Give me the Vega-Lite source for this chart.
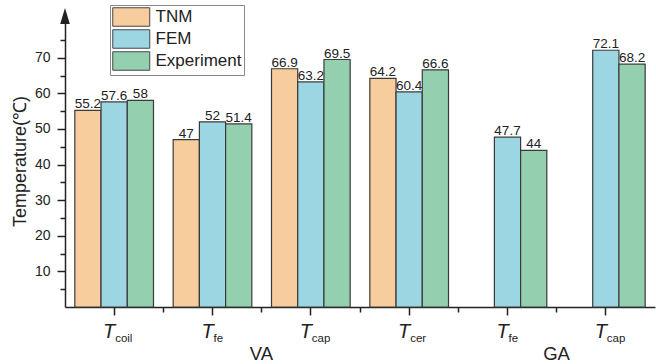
{
  "$schema": "https://vega.github.io/schema/vega-lite/v6.json",
  "width": 590,
  "height": 292,
  "autosize": "none",
  "padding": {"left": 65, "top": 15, "right": 1, "bottom": 57},
  "config": {
    "view": {"stroke": null},
    "font": "Liberation Sans",
    "axis": {"domainColor": "#222", "tickColor": "#222", "labelColor": "#222", "domainWidth": 1.5, "tickWidth": 1.5, "grid": false, "labelFont": "Liberation Sans", "titleFont": "Liberation Sans"}
  },
  "datasets": {
    "bars": [
      {"cat": "VA_coil", "method": "TNM", "value": 55.2},
      {"cat": "VA_coil", "method": "FEM", "value": 57.6},
      {"cat": "VA_coil", "method": "Experiment", "value": 58},
      {"cat": "VA_fe", "method": "TNM", "value": 47},
      {"cat": "VA_fe", "method": "FEM", "value": 52},
      {"cat": "VA_fe", "method": "Experiment", "value": 51.4},
      {"cat": "VA_cap", "method": "TNM", "value": 66.9},
      {"cat": "VA_cap", "method": "FEM", "value": 63.2},
      {"cat": "VA_cap", "method": "Experiment", "value": 69.5},
      {"cat": "VA_cer", "method": "TNM", "value": 64.2},
      {"cat": "VA_cer", "method": "FEM", "value": 60.4},
      {"cat": "VA_cer", "method": "Experiment", "value": 66.6},
      {"cat": "GA_fe", "method": "FEM", "value": 47.7},
      {"cat": "GA_fe", "method": "Experiment", "value": 44},
      {"cat": "GA_cap", "method": "FEM", "value": 72.1},
      {"cat": "GA_cap", "method": "Experiment", "value": 68.2}
    ],
    "cats": [
      {"cat": "VA_coil", "sub": "coil"},
      {"cat": "VA_fe", "sub": "fe"},
      {"cat": "VA_cap", "sub": "cap"},
      {"cat": "VA_cer", "sub": "cer"},
      {"cat": "GA_fe", "sub": "fe"},
      {"cat": "GA_cap", "sub": "cap"}
    ],
    "groups": [
      {"cat": "VA_fe", "label": "VA"},
      {"cat": "GA_fe", "label": "GA"}
    ],
    "arrow": [{"v": 81.7}]
  },
  "resolve": {"axis": {"x": "independent", "y": "independent"}},
  "layer": [
    {
      "data": {"name": "bars"},
      "mark": {"type": "bar", "stroke": "#3a3a3a", "strokeWidth": 1.2},
      "encoding": {
        "x": {
          "field": "cat", "type": "nominal",
          "sort": ["VA_coil", "VA_fe", "VA_cap", "VA_cer", "GA_fe", "GA_cap"],
          "scale": {"paddingInner": 0.2, "paddingOuter": 0.1},
          "axis": {"title": null, "orient": "bottom", "labelExpr": "'T'", "labelFontStyle": "italic", "labelFontSize": 20, "labelOffset": -5, "labelPadding": 6, "tickSize": 8, "labelAngle": 0}
        },
        "xOffset": {
          "field": "method", "type": "nominal",
          "scale": {"domain": ["TNM", "FEM", "Experiment"], "paddingInner": 0, "paddingOuter": 0}
        },
        "y": {
          "field": "value", "type": "quantitative",
          "scale": {"domain": [0, 82], "nice": false},
          "axis": {"orient": "left", "title": "Temperature(℃)", "titleFontSize": 18, "titleFontWeight": "normal", "titleColor": "#222", "titlePadding": 5, "values": [10, 20, 30, 40, 50, 60, 70], "tickSize": 8, "labelFontSize": 14, "labelPadding": 7}
        },
        "color": {
          "field": "method", "type": "nominal",
          "scale": {"domain": ["TNM", "FEM", "Experiment"], "range": ["#F8CD9D", "#9CD6E2", "#94D0B0"]},
          "legend": {"orient": "none", "legendX": 45, "legendY": -10, "title": null, "symbolType": "M-1,-1H3V1H-1Z", "symbolSize": 342, "symbolStrokeColor": "#444", "symbolStrokeWidth": 1, "symbolOpacity": 1, "labelFontSize": 17, "labelColor": "#222", "strokeColor": "#888", "fillColor": "white", "padding": 2, "rowPadding": -2.5, "labelOffset": 23.5}
        }
      }
    },
    {
      "data": {"name": "bars"},
      "mark": {"type": "text", "baseline": "alphabetic", "dy": -2, "fontSize": 13.5, "color": "#222"},
      "encoding": {
        "x": {"field": "cat", "type": "nominal", "sort": ["VA_coil", "VA_fe", "VA_cap", "VA_cer", "GA_fe", "GA_cap"], "axis": null},
        "xOffset": {"field": "method", "type": "nominal", "scale": {"domain": ["TNM", "FEM", "Experiment"], "paddingInner": 0, "paddingOuter": 0}},
        "y": {"field": "value", "type": "quantitative", "axis": null},
        "text": {"field": "value", "type": "nominal"}
      }
    },
    {
      "data": {"name": "cats"},
      "mark": {"type": "text", "align": "left", "baseline": "alphabetic", "dx": 1, "dy": 35, "fontSize": 11.5, "color": "#222"},
      "encoding": {
        "x": {
          "field": "cat", "type": "nominal", "sort": ["VA_coil", "VA_fe", "VA_cap", "VA_cer", "GA_fe", "GA_cap"],
          "axis": {"orient": "bottom", "values": ["VA_coil", "VA_fe", "VA_cap", "VA_cer", "GA_fe"], "bandPosition": 1.125, "tickSize": 5, "labels": false, "domain": false, "title": null}
        },
        "y": {"datum": 0, "type": "quantitative", "axis": null},
        "text": {"field": "sub", "type": "nominal"}
      }
    },
    {
      "data": {"name": "groups"},
      "mark": {"type": "text", "align": "center", "baseline": "alphabetic", "dx": 49, "dy": 53, "fontSize": 18.5, "color": "#222"},
      "encoding": {
        "x": {"field": "cat", "type": "nominal", "sort": ["VA_coil", "VA_fe", "VA_cap", "VA_cer", "GA_fe", "GA_cap"], "axis": null},
        "y": {"datum": 0, "type": "quantitative", "axis": null},
        "text": {"field": "label", "type": "nominal"}
      }
    },
    {
      "data": {"name": "arrow"},
      "mark": {"type": "point", "shape": "M0,-1L0.6,1L-0.6,1Z", "size": 256, "filled": true, "color": "#222", "opacity": 1},
      "encoding": {
        "x": {"value": 0},
        "y": {
          "field": "v", "type": "quantitative",
          "axis": {"orient": "left", "values": [5, 15, 25, 35, 45, 55, 65, 75], "tickSize": 5, "labels": false, "domain": false, "title": null}
        }
      }
    }
  ]
}
